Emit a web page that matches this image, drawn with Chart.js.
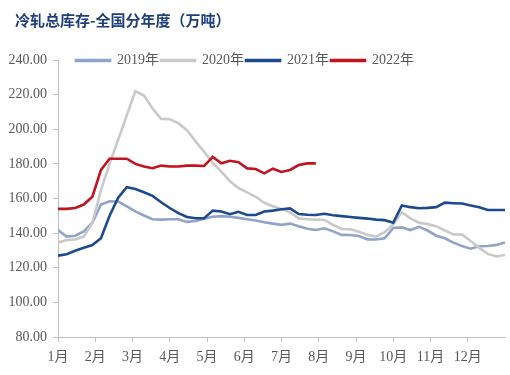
<!DOCTYPE html>
<html>
<head>
<meta charset="utf-8">
<script src="https://cdn.jsdelivr.net/npm/chart.js@4"></script>
<style>
  body { margin: 0; background: #fff; }
  #wrap { width: 510px; height: 375px; }
</style>
</head>
<body>
<div id="wrap"><canvas id="myChart"></canvas></div>
<script>
// 冷轧总库存 - weekly values, 53 weeks per year
const monthLabels = ["1月", "2月", "3月", "4月", "5月", "6月", "7月", "8月", "9月", "10月", "11月", "12月"];
const yearNames = ["2019年", "2020年", "2021年", "2022年"];

const y2019 = [141.8, 138, 138.5, 141, 146, 156.5, 158.4, 158.3, 155.5, 152.6, 150.2, 148, 147.8, 148, 148,
  146.5, 147, 148.3, 149.5, 149.8, 149.5, 148.8, 148, 147.3, 146.3, 145.5, 144.8, 145.5, 144, 142.5, 141.8,
  142.8, 141, 139, 138.9, 138.3, 136.4, 136.3, 137, 143, 143.3, 141.8, 143.6, 141.5, 138.5, 137, 134.5,
  132.5, 131, 132.4, 132.6, 133.2, 134.6];
const y2020 = [134.5, 136, 136.3, 138, 146, 165, 180, 194, 208, 222, 219.5, 212, 206, 205.8, 203.5, 199.5,
  193, 187, 180.5, 175.5, 170, 166, 163.5, 161, 157.5, 155.5, 154, 152, 148.5, 148, 147.8, 147.6, 144.7,
  142.4, 142.2, 140.8, 139, 138, 140.5, 145, 152, 148.5, 146, 145.2, 144, 141.5, 139.3, 139.2, 135.5,
  131.5, 128, 126.5, 127.4];
const y2021 = [127, 127.8, 129.8, 131.6, 133.1, 137, 150, 160.5, 166.5, 165.5, 163.6, 161.5, 157.8, 154.5,
  151.5, 149.3, 148.6, 148.6, 153, 152.5, 150.9, 152.3, 150.5, 150.5, 152.5, 153, 153.8, 154.3, 151, 150.6,
  150.5, 151.2, 150.3, 149.8, 149.3, 148.8, 148.4, 147.8, 147.5, 146, 156, 155, 154.4, 154.6, 155, 157.6,
  157.3, 157.1, 156, 155, 153.4, 153.4, 153.4];
const y2022 = [154, 154, 154.5, 156.5, 161, 176.5, 183, 183, 183, 180, 178.5, 177.5, 179, 178.5, 178.5, 179,
  179, 178.8, 184, 180.3, 181.8, 181, 177.4, 177, 174.5, 177.2, 175.3, 176.5, 179.3, 180.3, 180.3];

const colors = ["#8fa4c8", "#c9c9c9", "#1d4a8e", "#c0141f"];
const series = [y2019, y2020, y2021, y2022];

const weeks = 52;
const txt = "#595959";
const axisCol = "#bfbfbf";
const fontFam = "'Liberation Serif', 'Noto Sans CJK SC', serif";

// month ticks spread evenly across the year
const monthTicks = monthLabels.map((m, i) => i * weeks / 12);

const datasets = series.map((vals, k) => ({
  label: yearNames[k],
  data: vals.map((v, i) => ({ x: i, y: v })),
  borderColor: colors[k],
  backgroundColor: colors[k],
  borderWidth: 2.6,
  pointRadius: 0,
  tension: 0,
  order: 4 - k
}));

// legend sits over the top of the plot, title is indented a bit
const layoutTweak = {
  id: "layoutTweak",
  beforeInit(chart) {
    const fit = chart.legend.fit;
    chart.legend.fit = function () {
      fit.bind(chart.legend)();
      this.height = 8.5;
    };
  },
  afterLayout(chart) {
    const lg = chart.legend;
    lg.right -= 15;
    lg.bottom = lg.top + 22;
    lg.height = 22;
    chart.titleBlock.left = 15;
  }
};

const ctx = document.getElementById("myChart");

new Chart(ctx, {
  type: "line",
  data: { datasets: datasets },
  plugins: [layoutTweak],
  options: {
    responsive: true,
    maintainAspectRatio: false,
    animation: false,
    layout: { padding: { left: 0, right: 5, top: 0, bottom: 0 } },
    plugins: {
      title: {
        display: true,
        text: "冷轧总库存-全国分年度（万吨）",
        align: "start",
        color: "#1f3f7c",
        font: { family: "'Noto Sans CJK SC', sans-serif", size: 15, weight: "bold" },
        padding: { top: 11, bottom: 22.5 }
      },
      legend: {
        display: true,
        labels: {
          boxWidth: 34,
          boxHeight: 1,
          padding: 2,
          color: txt,
          font: { family: fontFam, size: 14 },
          sort: (a, b) => a.datasetIndex - b.datasetIndex
        }
      },
      tooltip: { enabled: false }
    },
    scales: {
      x: {
        type: "linear",
        min: 0,
        max: weeks,
        afterBuildTicks: (scale) => {
          scale.ticks = monthTicks.map(v => ({ value: v }));
        },
        afterFit: (scale) => { scale.height = 38; },
        ticks: {
          autoSkip: false,
          maxRotation: 0,
          padding: 7,
          color: txt,
          font: { family: fontFam, size: 14 },
          callback: (value, index) => monthLabels[index]
        },
        grid: { drawOnChartArea: false, tickLength: 5, color: axisCol },
        border: { color: axisCol }
      },
      y: {
        min: 80,
        max: 240,
        afterFit: (scale) => { scale.width = 58; },
        ticks: {
          stepSize: 20,
          padding: 6,
          color: txt,
          font: { family: fontFam, size: 14 },
          callback: (value) => value.toFixed(2)
        },
        grid: { drawOnChartArea: false, tickLength: 5, color: axisCol },
        border: { color: axisCol }
      }
    }
  }
});
</script>
</body>
</html>
